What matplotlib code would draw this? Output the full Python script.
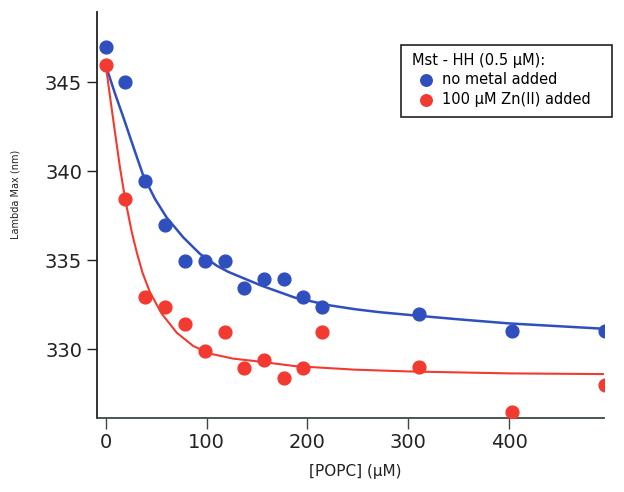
import matplotlib
matplotlib.use("Agg")
import matplotlib.pyplot as plt
from matplotlib.patches import Rectangle

# data
popc = [0, 19.6, 39, 58.8, 78.6, 98.4, 118.2, 137, 156.9, 176.7, 195.6, 214.7, 310.5, 403, 495]
no_metal = [347.0, 345.0, 339.45, 337.0, 334.95, 334.95, 334.95, 333.45, 333.95, 333.95, 332.95, 332.4, 331.98, 331.0, 331.0]
zn_added = [346.0, 338.45, 332.95, 332.4, 331.4, 329.9, 330.95, 328.95, 329.4, 328.4, 328.95, 330.95, 329.0, 326.45, 327.98]

# fitted curves, points
fit_x_blue = [0, 1, 9.2, 17.4, 27.3, 37.3, 48.9, 60.5, 76.9, 93.5, 110, 121.5, 154.6, 187.6,
              220.6, 247, 272, 310, 350, 400, 494]
fit_blue = [346.0, 345.8, 344.38, 343.06, 341.4, 339.75, 338.45, 337.4, 336.29, 335.36, 334.7,
            334.35, 333.57, 332.9, 332.48, 332.25, 332.08, 331.88, 331.68, 331.45, 331.15]
fit_x_red = [0, 4.3, 9.2, 14.2, 19.1, 25.8, 31, 36.5, 43.9, 55.5, 70.4, 86.8, 103.4, 126.5,
             152.9, 187.6, 247, 300, 400, 494]
fit_red = [346.0, 344.2, 342.2, 340.2, 338.5, 336.6, 335.4, 334.3, 333.2, 332.0, 330.93,
           330.18, 329.75, 329.47, 329.3, 329.05, 328.85, 328.75, 328.64, 328.6]

blue = "#2f4fbf"
red = "#f23a30"

fig = plt.figure(figsize=(6.24, 4.92), dpi=100)
ax = fig.add_axes([0.155, 0.15, 0.813, 0.8258])

ax.plot(fit_x_blue, fit_blue, color=blue, lw=1.8, zorder=2)
ax.plot(fit_x_red, fit_red, color=red, lw=1.5, zorder=2)
ax.scatter(popc, no_metal, s=85, color=blue, zorder=3, label="no metal added")
ax.scatter(popc, zn_added, s=85, color=red, zorder=3, label="100 \u00b5M Zn(II) added")

ax.set_xlim(-8.9, 494)
ax.set_ylim(326.12, 348.97)
ax.set_xticks([0, 100, 200, 300, 400])
ax.set_yticks([330, 335, 340, 345])

for s in ["top", "right"]:
    ax.spines[s].set_visible(False)
ax.spines["left"].set_color("#222222")
ax.spines["bottom"].set_color("#3d4a40")
ax.spines["left"].set_linewidth(1.3)
ax.spines["bottom"].set_linewidth(1.3)
ax.tick_params(axis="y", direction="out", length=7.5, width=1, color="#222222",
               labelsize=14, pad=3, labelcolor="#222222")
ax.tick_params(axis="x", direction="out", length=8, width=1, color="#3d4a40",
               labelsize=14, pad=3, labelcolor="#222222")

ax.set_xlabel("[POPC] (\u00b5M)", fontsize=11, color="#222222")
ax.xaxis.set_label_coords(0.509, -0.112)
ax.set_ylabel("Lambda Max (nm)", fontsize=7, color="#222222")
ax.yaxis.set_label_coords(-0.151, 0.55)

# legend box drawn separately so it can be as wide as the original
ax.add_patch(Rectangle((0.599, 0.7416), 0.416, 0.1774, transform=ax.transAxes,
                       fill=True, facecolor="white", edgecolor="#222222", lw=1.2,
                       clip_on=False, zorder=4))
leg = ax.legend(title="Mst - HH (0.5 \u00b5M):", loc="upper left",
                bbox_to_anchor=(0.605, 0.919), fontsize=10.5, title_fontsize=10.5,
                frameon=False, handletextpad=0.05, borderpad=0.55, labelspacing=0.3,
                handlelength=2.0, markerscale=0.9, borderaxespad=0)
leg._legend_box.align = "left"
leg.set_zorder(5)

fig.savefig("out.png", dpi=100)
